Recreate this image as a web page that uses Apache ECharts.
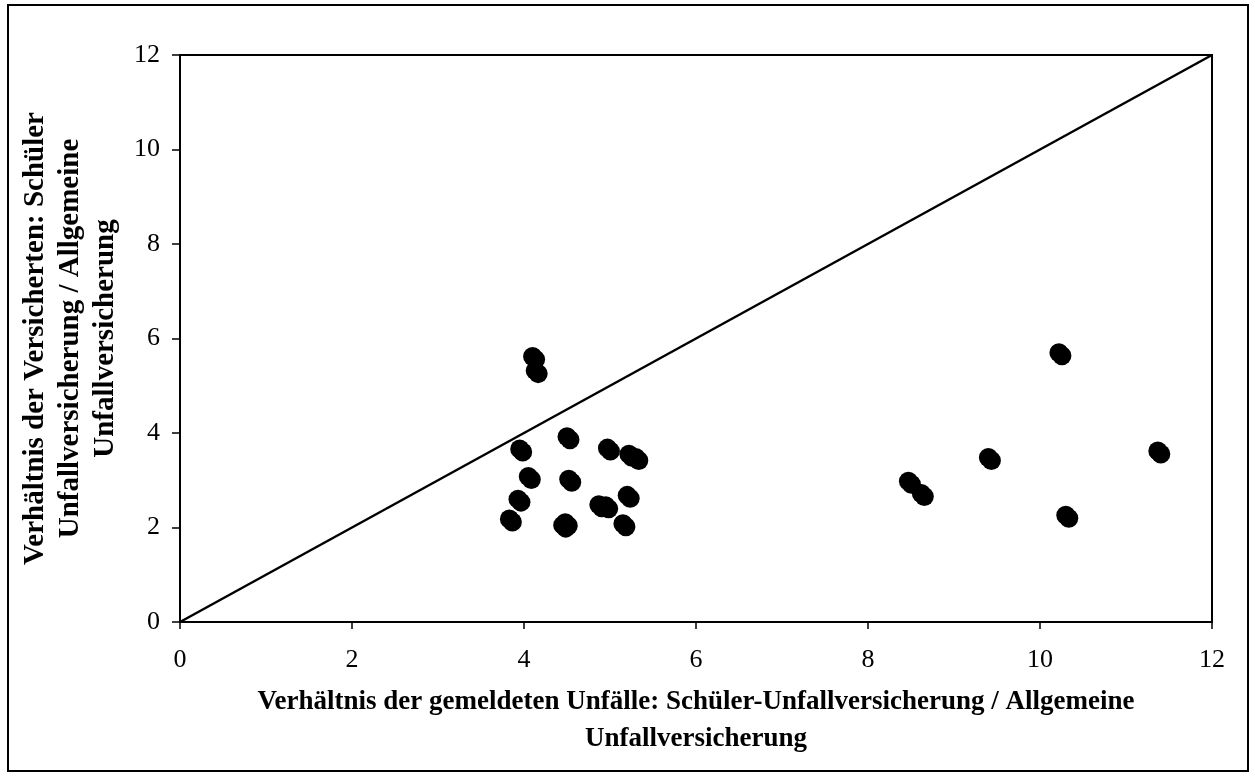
<!DOCTYPE html>
<html>
<head>
<meta charset="utf-8">
<script src="https://cdn.jsdelivr.net/npm/echarts@6/dist/echarts.min.js"></script>
<style>
  html, body { margin: 0; padding: 0; background: #fff; }
  #chart { width: 1255px; height: 778px; }
</style>
</head>
<body>
<div id="chart"></div>
<script>
// Ratio of reported accidents (school vs. general accident insurance)
const unfallRatio = [4.10, 4.13, 4.50, 3.95, 4.05, 3.93, 3.83, 4.52, 4.45, 4.48, 4.97, 5.22, 5.30, 4.87, 4.95, 5.20, 5.15, 10.22, 9.40, 8.47, 8.62, 11.37, 10.30];
// Ratio of insured persons (school vs. general accident insurance)
const versichertenRatio = [5.62, 5.32, 3.92, 3.66, 3.08, 2.60, 2.18, 3.02, 2.05, 2.10, 3.68, 3.55, 3.48, 2.48, 2.46, 2.68, 2.08, 5.70, 3.48, 2.98, 2.72, 3.62, 2.26];
// Reference line of equal ratios
const diagonal = [[0, 0], [12, 12]];
const axisTicks = { min: 0, max: 12, interval: 2 };

const xTitle = 'Verhältnis der gemeldeten Unfälle: Schüler-Unfallversicherung / Allgemeine\nUnfallversicherung';
const yTitle = 'Verhältnis der Versicherten: Schüler\nUnfallversicherung / Allgemeine\nUnfallversicherung';

const font = '"Liberation Serif", "Times New Roman", serif';
const points = unfallRatio.map((x, i) => [x, versichertenRatio[i]]);

const chart = echarts.init(document.getElementById('chart'), null, { renderer: 'canvas' });
chart.setOption({
  backgroundColor: '#fff',
  animation: false,
  graphic: [{
    type: 'rect',
    shape: { x: 8, y: 5, width: 1240, height: 766 },
    style: { fill: 'none', stroke: '#000', lineWidth: 2 },
    silent: true
  }],
  grid: { left: 180, top: 55, right: 43, bottom: 156, show: true, borderColor: '#000', borderWidth: 2 },
  xAxis: {
    type: 'value',
    min: axisTicks.min, max: axisTicks.max, interval: axisTicks.interval,
    splitLine: { show: false },
    axisLine: { show: true, onZero: false, lineStyle: { color: '#000', width: 2 } },
    axisTick: { show: true, length: 7, lineStyle: { color: '#000', width: 1.5 } },
    axisLabel: { color: '#000', fontFamily: font, fontSize: 26, margin: 25 },
    name: xTitle,
    nameLocation: 'middle',
    nameGap: 62,
    nameTextStyle: { color: '#000', fontFamily: font, fontSize: 27, fontWeight: 'bold', lineHeight: 37, verticalAlign: 'top', align: 'center' }
  },
  yAxis: {
    type: 'value',
    min: axisTicks.min, max: axisTicks.max, interval: axisTicks.interval,
    splitLine: { show: false },
    axisLine: { show: true, onZero: false, lineStyle: { color: '#000', width: 2 } },
    axisTick: { show: true, length: 8, lineStyle: { color: '#000', width: 1.5 } },
    axisLabel: { color: '#000', fontFamily: font, fontSize: 26, margin: 20 },
    name: yTitle,
    nameLocation: 'middle',
    nameGap: 49,
    nameTextStyle: { color: '#000', fontFamily: font, fontSize: 29, fontWeight: 'bold', lineHeight: 35, align: 'center' }
  },
  series: [
    {
      type: 'line',
      data: diagonal,
      symbol: 'none',
      lineStyle: { color: '#000', width: 2.5 },
      silent: true,
      z: 1
    },
    {
      type: 'scatter',
      data: points,
      symbol: 'circle',
      symbolSize: 19,
      itemStyle: {
        color: '#000',
        opacity: 1,
        shadowColor: '#000',
        shadowBlur: 0,
        shadowOffsetX: 3,
        shadowOffsetY: 3
      },
      z: 2
    }
  ]
});
</script>
</body>
</html>
